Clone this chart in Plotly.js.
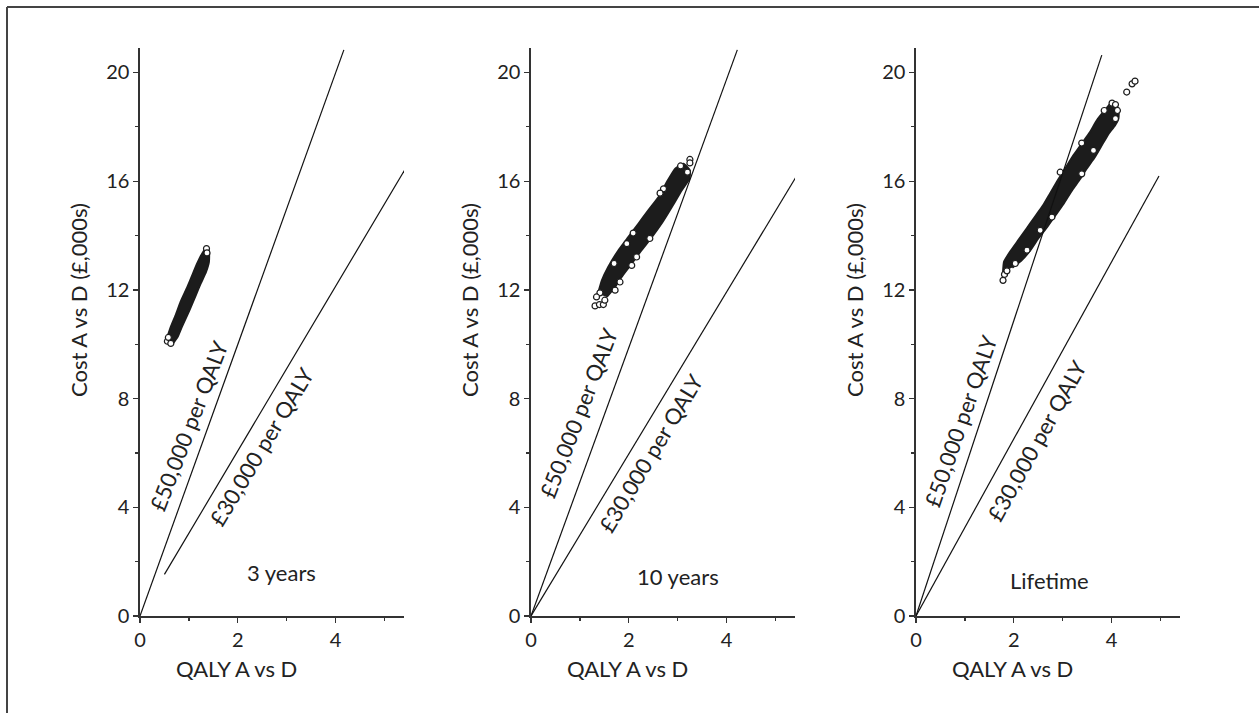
<!DOCTYPE html>
<html>
<head>
<meta charset="utf-8">
<script src="https://cdn.plot.ly/plotly-3.0.1.min.js"></script>
<style>
  html, body { margin: 0; padding: 0; background: #ffffff; }
  #chart { width: 1259px; height: 713px; }
</style>
</head>
<body>
<div id="chart"></div>
<script>
// Cost-effectiveness planes, A vs D, for three time horizons
const horizons = ['3 years', '10 years', 'Lifetime'];
const xTickVals = [0, 2, 4];
const xMinorTicks = [1, 3, 5];
const yTickVals = [0, 4, 8, 12, 16, 20];
const yMinorTicks = [2, 6, 10, 14, 18];

// Willingness-to-pay lines (QALY, cost £000s endpoints)
const wtp50Label = '£50,000 per QALY';
const wtp30Label = '£30,000 per QALY';
const wtp50StartX = [0, 0, 0];
const wtp50StartY = [0, 0, 0];
const wtp50EndX = [4.17, 4.22, 3.80];
const wtp50EndY = [20.83, 20.83, 20.64];
const wtp30StartX = [0.5, 0, 0];
const wtp30StartY = [1.53, 0, 0];
const wtp30EndX = [5.41, 5.53, 4.97];
const wtp30EndY = [16.4, 16.48, 16.19];

// Dense core of the simulated incremental cost/QALY pairs (outline of the cloud)
const core3yQaly = [0.54, 0.63, 0.73, 0.83, 0.97, 1.07, 1.17, 1.27, 1.35, 1.41, 1.41, 1.35, 1.24, 1.14, 1.01, 0.87, 0.77, 0.66];
const core3yCost = [10.15, 10.64, 11.07, 11.56, 12.11, 12.54, 12.97, 13.33, 13.52, 13.43, 13.03, 12.66, 12.23, 11.80, 11.25, 10.70, 10.27, 9.99];
const core10yQaly = [1.37, 1.45, 1.58, 1.79, 1.99, 2.20, 2.40, 2.61, 2.78, 2.95, 3.12, 3.25, 3.24, 3.08, 2.88, 2.67, 2.47, 2.26, 2.06, 1.85, 1.72, 1.55];
const core10yCost = [11.86, 12.35, 12.84, 13.46, 13.94, 14.44, 14.93, 15.42, 15.97, 16.46, 16.64, 16.40, 16.09, 15.66, 15.05, 14.44, 13.94, 13.46, 12.97, 12.47, 12.11, 11.74];
const coreLifeQaly = [1.78, 1.80, 1.92, 2.09, 2.26, 2.43, 2.60, 2.74, 2.90, 3.05, 3.22, 3.39, 3.56, 3.70, 3.86, 3.98, 4.14, 4.14, 4.07, 3.94, 3.80, 3.66, 3.49, 3.36, 3.19, 3.02, 2.85, 2.68, 2.50, 2.34, 2.16, 1.97];
const coreLifeCost = [12.66, 13.03, 13.39, 13.82, 14.25, 14.68, 15.11, 15.54, 16.03, 16.46, 16.95, 17.38, 17.81, 18.24, 18.60, 18.85, 18.70, 18.30, 18.05, 17.75, 17.32, 16.89, 16.46, 16.09, 15.66, 15.17, 14.74, 14.31, 13.89, 13.46, 13.09, 12.82];

// Individual simulations visible outside the dense core
const sims3yQaly = [1.36, 1.37, 0.56, 0.63, 0.58];
const sims3yCost = [13.52, 13.36, 10.11, 10.03, 10.25];
const sims10yQaly = [3.25, 3.25, 3.06, 3.20, 2.71, 2.64, 2.09, 1.96, 2.43, 2.16, 1.70, 2.06, 1.82, 1.72, 1.41, 1.34, 1.31, 1.40, 1.48, 1.51];
const sims10yCost = [16.80, 16.67, 16.56, 16.33, 15.72, 15.56, 14.09, 13.70, 13.89, 13.21, 12.97, 12.90, 12.29, 11.99, 11.89, 11.74, 11.41, 11.46, 11.46, 11.62];
const simsLifeQaly = [1.78, 1.81, 1.86, 2.03, 2.27, 2.54, 2.78, 2.95, 3.39, 3.39, 3.63, 3.85, 4.01, 4.08, 4.12, 4.08, 4.31, 4.42, 4.48];
const simsLifeCost = [12.35, 12.57, 12.70, 12.97, 13.46, 14.19, 14.68, 16.33, 17.40, 16.27, 17.13, 18.60, 18.87, 18.82, 18.60, 18.30, 19.28, 19.58, 19.68];

const coreQaly = [core3yQaly, core10yQaly, coreLifeQaly];
const coreCost = [core3yCost, core10yCost, coreLifeCost];
const simsQaly = [sims3yQaly, sims10yQaly, simsLifeQaly];
const simsCost = [sims3yCost, sims10yCost, simsLifeCost];

// Label placements (data units) and rotations
const wtp50LabelX = [1.0, 0.97, 0.91];
const wtp50LabelY = [7.0, 7.5, 7.2];
const wtp30LabelX = [2.48, 2.46, 2.47];
const wtp30LabelY = [6.25, 6.0, 6.45];
const wtp50Angle = [-69, -69, -71];
const wtp30Angle = [-59, -59, -61];
const horizonLabelX = [2.9, 3.01, 2.73];
const horizonLabelY = [1.6, 1.47, 1.32];

const W = 1259, H = 713;
const FONT = 'Lato, "Open Sans", sans-serif';
const INK = '#1c1c1c';
const TEXT = '#222222';
const AXIS = '#333333';

// pixel frame of each panel's axes
const panelLeft = [140, 531, 916];
const panelWidth = 264;
const plotTop = 48, plotBottom = 616;

const data = [];
const layout = {
  width: W, height: H,
  margin: { l: 0, r: 0, t: 0, b: 0 },
  paper_bgcolor: '#ffffff',
  plot_bgcolor: '#ffffff',
  showlegend: false,
  annotations: [],
  shapes: [
    { type: 'line', xref: 'paper', yref: 'paper', x0: 7 / W, x1: 1, y0: 1 - 7 / H, y1: 1 - 7 / H, line: { color: '#444', width: 2 } },
    { type: 'line', xref: 'paper', yref: 'paper', x0: 7 / W, x1: 7 / W, y0: 0, y1: 1 - 7 / H, line: { color: '#444', width: 2 } }
  ]
};

const textFont = { family: FONT, size: 22, color: TEXT };

horizons.forEach((name, i) => {
  const s = i === 0 ? '' : String(i + 1);
  const xa = 'x' + s, ya = 'y' + s;

  data.push({
    x: coreQaly[i], y: coreCost[i], xaxis: xa, yaxis: ya,
    mode: 'lines', fill: 'toself', fillcolor: INK,
    line: { color: INK, width: 2, shape: 'spline', smoothing: 0.4 },
    hoverinfo: 'skip'
  });
  data.push({
    x: simsQaly[i], y: simsCost[i], xaxis: xa, yaxis: ya,
    mode: 'markers', cliponaxis: false,
    marker: { symbol: 'circle', size: 6, color: '#ffffff', line: { color: INK, width: 1.2 } },
    hoverinfo: 'skip'
  });
  data.push({
    x: [wtp50StartX[i], wtp50EndX[i]], y: [wtp50StartY[i], wtp50EndY[i]],
    xaxis: xa, yaxis: ya, mode: 'lines', line: { color: '#111', width: 1.2 }, hoverinfo: 'skip'
  });
  data.push({
    x: [wtp30StartX[i], wtp30EndX[i]], y: [wtp30StartY[i], wtp30EndY[i]],
    xaxis: xa, yaxis: ya, mode: 'lines', line: { color: '#111', width: 1.2 }, hoverinfo: 'skip'
  });

  const left = panelLeft[i];
  layout['xaxis' + s] = {
    domain: [left / W, (left + panelWidth) / W],
    anchor: ya, range: [0, 5.4],
    tickmode: 'array', tickvals: xTickVals, ticktext: xTickVals.map(String),
    ticks: 'outside', ticklen: 5, tickwidth: 1.3, tickcolor: AXIS,
    minor: { tickmode: 'array', tickvals: xMinorTicks, ticks: 'outside', ticklen: 3, tickwidth: 1.3, tickcolor: AXIS, showgrid: false },
    showline: true, linecolor: AXIS, linewidth: 1.6,
    showgrid: false, zeroline: false,
    tickfont: { family: FONT, size: 20, color: TEXT },
    fixedrange: true
  };
  layout['yaxis' + s] = {
    domain: [1 - plotBottom / H, 1 - plotTop / H],
    anchor: xa, range: [0, 20.9],
    tickmode: 'array', tickvals: yTickVals, ticktext: yTickVals.map(String),
    ticks: 'outside', ticklen: 5, tickwidth: 1.3, tickcolor: AXIS,
    minor: { tickmode: 'array', tickvals: yMinorTicks, ticks: 'outside', ticklen: 3, tickwidth: 1.3, tickcolor: AXIS, showgrid: false },
    showline: true, linecolor: AXIS, linewidth: 1.6,
    showgrid: false, zeroline: false,
    tickfont: { family: FONT, size: 20, color: TEXT },
    fixedrange: true
  };

  // axis titles
  layout.annotations.push({
    xref: 'paper', yref: 'paper', x: (left + 96) / W, y: 1 - 668 / H,
    text: 'QALY A vs D', showarrow: false, font: textFont, xanchor: 'center', yanchor: 'middle'
  });
  layout.annotations.push({
    xref: 'paper', yref: 'paper', x: (left - 62) / W, y: 1 - 300 / H,
    text: 'Cost A vs D (£,000s)', textangle: -90, showarrow: false, font: textFont, xanchor: 'center', yanchor: 'middle'
  });

  // threshold and horizon labels
  layout.annotations.push({
    xref: xa, yref: ya, x: wtp50LabelX[i], y: wtp50LabelY[i], text: wtp50Label,
    textangle: wtp50Angle[i], showarrow: false, font: textFont
  });
  layout.annotations.push({
    xref: xa, yref: ya, x: wtp30LabelX[i], y: wtp30LabelY[i], text: wtp30Label,
    textangle: wtp30Angle[i], showarrow: false, font: textFont
  });
  layout.annotations.push({
    xref: xa, yref: ya, x: horizonLabelX[i], y: horizonLabelY[i], text: name,
    showarrow: false, font: textFont
  });
});

Plotly.newPlot('chart', data, layout, { displayModeBar: false, staticPlot: true });
</script>
</body>
</html>
